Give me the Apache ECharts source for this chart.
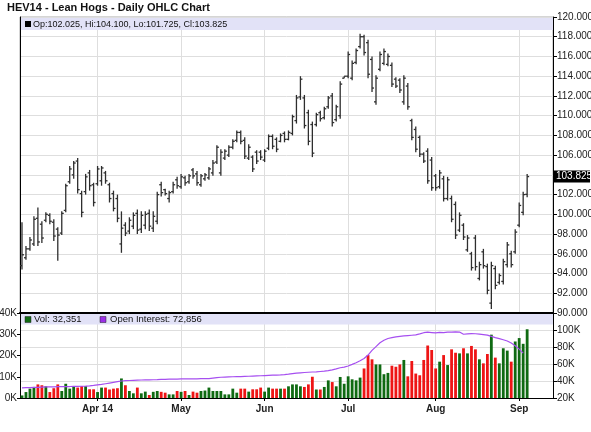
<!DOCTYPE html>
<html>
<head>
<meta charset="utf-8">
<title>HEV14 - Lean Hogs - Daily OHLC Chart</title>
<script src="https://cdn.jsdelivr.net/npm/echarts@6/dist/echarts.min.js"></script>
<style>
  html, body { margin: 0; padding: 0; background: #fff; }
  #chart { width: 591px; height: 432px; }
</style>
</head>
<body>
<div id="chart"></div>
<script>
  // trading days of 2014 shown on the chart (last few Sep days are empty room on the right)
  var tradingDays = {
    '03': [5, 6, 7, 10, 11, 12, 13, 14, 17, 18, 19, 20, 21, 24, 25, 26, 27, 28, 31],
    '04': [1, 2, 3, 4, 7, 8, 9, 10, 11, 14, 15, 16, 17, 21, 22, 23, 24, 25, 28, 29, 30],
    '05': [1, 2, 5, 6, 7, 8, 9, 12, 13, 14, 15, 16, 19, 20, 21, 22, 23, 27, 28, 29, 30],
    '06': [2, 3, 4, 5, 6, 9, 10, 11, 12, 13, 16, 17, 18, 19, 20, 23, 24, 25, 26, 27, 30],
    '07': [1, 2, 3, 7, 8, 9, 10, 11, 14, 15, 16, 17, 18, 21, 22, 23, 24, 25, 28, 29, 30, 31],
    '08': [1, 4, 5, 6, 7, 8, 11, 12, 13, 14, 15, 18, 19, 20, 21, 22, 25, 26, 27, 28, 29],
    '09': [2, 3, 4, 5, 8, 9, 10, 11, 12]
  };
  var monthNames = ['Jan', 'Feb', 'Mar', 'Apr', 'May', 'Jun', 'Jul', 'Aug', 'Sep', 'Oct', 'Nov', 'Dec'];

  var opens = [
    94.8, 95.6, 96.5, 97.0, 99.6, 99.0, 99.4, 99.9, 99.2, 98.5,
    98.1, 100.4, 103.3, 104.0, 105.4, 102.1, 102.3, 104.2, 103.0, 103.1,
    103.4, 104.2, 103.0, 102.1, 101.6, 97.0, 98.9, 98.3, 98.8, 100.1,
    98.5, 98.9, 100.1, 98.6, 99.3, 103.0, 102.5, 101.6, 102.3, 103.5,
    102.8, 103.7, 103.3, 104.5, 104.1, 103.0, 103.6, 103.7, 104.2, 105.3,
    104.2, 105.7, 106.0, 106.8, 107.5, 108.3, 107.5, 105.7, 105.8, 106.3,
    106.3, 105.5, 106.7, 107.9, 107.6, 107.4, 108.2, 107.6, 108.2, 109.5,
    111.9, 111.8, 110.3, 109.1, 109.1, 110.3, 109.8, 110.9, 112.0, 109.6,
    110.0, 113.8, 114.0, 113.8, 115.4, 117.0, 118.0, 117.4, 115.7, 111.4,
    114.7, 115.3, 115.2, 115.1, 113.7, 113.6, 111.4, 113.0, 109.5, 108.6,
    107.8, 106.1, 106.4, 105.5, 103.9, 102.8, 103.6, 101.6, 101.6, 101.0,
    98.4, 98.9, 96.4, 96.0, 97.6, 93.5, 96.2, 94.7, 91.0, 94.5,
    93.1, 93.2, 94.9, 96.0, 96.2, 98.9, 100.2, 102.025
  ];
  var highs = [
    99.2, 96.8, 97.7, 99.8, 100.7, 99.3, 100.2, 100.1, 99.5, 98.7,
    100.3, 103.1, 104.9, 105.4, 105.7, 102.4, 104.1, 104.5, 103.2, 104.9,
    104.9, 104.4, 103.2, 102.4, 102.0, 100.3, 99.2, 99.7, 100.2, 100.5,
    100.3, 100.3, 100.5, 100.3, 102.3, 103.3, 102.6, 102.4, 103.3, 103.8,
    104.1, 103.9, 104.1, 104.7, 104.4, 104.1, 104.2, 104.8, 105.5, 107.0,
    106.6, 106.6, 107.0, 107.6, 108.5, 108.5, 107.8, 107.1, 106.0, 106.5,
    106.5, 106.6, 108.1, 108.1, 107.8, 108.2, 108.4, 108.5, 110.1, 112.1,
    114.0, 112.1, 110.6, 109.4, 110.3, 110.5, 110.9, 112.0, 112.3, 111.1,
    113.5, 114.0, 116.5, 115.6, 116.8, 118.3, 118.2, 117.7, 116.0, 114.1,
    116.5, 116.8, 116.3, 115.4, 113.9, 113.8, 114.1, 113.3, 109.7, 108.9,
    108.0, 106.3, 106.7, 105.8, 104.1, 104.5, 103.9, 103.8, 101.9, 101.3,
    100.2, 99.1, 97.9, 96.2, 97.9, 95.2, 96.5, 95.0, 95.2, 94.8,
    94.0, 95.5, 97.2, 96.3, 98.5, 101.2, 102.3, 104.1
  ];
  var lows = [
    94.4, 95.4, 96.3, 96.8, 96.8, 97.1, 99.2, 99.0, 97.3, 95.3,
    97.9, 100.2, 103.1, 103.6, 102.1, 99.7, 102.0, 102.4, 100.8, 102.9,
    102.9, 103.1, 101.2, 100.3, 99.2, 96.1, 97.8, 98.0, 98.5, 98.0,
    98.1, 98.5, 98.3, 98.2, 99.0, 101.8, 101.9, 101.2, 102.1, 102.6,
    102.6, 102.9, 103.1, 103.6, 102.9, 102.8, 103.4, 103.5, 103.9, 105.1,
    103.9, 105.5, 105.8, 106.6, 107.3, 107.1, 105.6, 105.5, 104.3, 105.1,
    105.5, 105.3, 106.5, 106.6, 106.3, 107.3, 107.3, 107.5, 108.0, 109.2,
    111.6, 108.7, 107.0, 105.8, 108.9, 109.4, 109.6, 110.7, 108.9, 109.4,
    109.7, 113.8, 113.8, 113.6, 115.2, 116.8, 116.1, 113.8, 112.4, 111.1,
    114.5, 115.1, 115.0, 112.9, 112.8, 112.3, 111.1, 110.6, 107.5, 106.3,
    105.8, 105.2, 103.1, 102.4, 102.4, 102.6, 101.3, 101.4, 99.2, 97.5,
    98.2, 97.4, 96.2, 94.3, 94.3, 93.3, 94.5, 91.9, 90.4, 92.4,
    92.9, 92.9, 94.6, 94.6, 96.0, 98.7, 99.9, 101.725
  ];
  var closes = [
    95.9, 96.5, 97.4, 99.5, 97.2, 97.6, 100.0, 99.3, 97.8, 97.9,
    100.1, 102.9, 104.6, 105.2, 102.5, 100.2, 103.8, 102.9, 101.2, 104.6,
    104.7, 103.4, 101.6, 100.6, 99.6, 98.6, 98.1, 99.4, 99.9, 98.4,
    99.9, 100.0, 98.8, 99.8, 102.0, 102.2, 102.1, 102.2, 103.0, 102.9,
    103.8, 103.2, 103.9, 103.9, 103.2, 103.9, 104.0, 104.6, 105.2, 106.8,
    106.3, 106.4, 106.8, 107.4, 108.3, 107.4, 105.9, 106.8, 104.6, 105.4,
    105.8, 106.4, 107.9, 106.9, 106.6, 108.0, 107.6, 108.3, 109.9, 111.8,
    113.7, 109.0, 107.4, 106.2, 110.1, 109.7, 110.7, 111.8, 109.3, 110.9,
    113.2, 114.0, 116.2, 115.3, 116.6, 118.0, 116.4, 114.2, 112.8, 113.8,
    116.2, 116.5, 116.0, 113.2, 113.0, 112.6, 113.8, 110.9, 107.8, 106.6,
    106.1, 105.4, 103.4, 102.7, 102.7, 104.2, 101.6, 103.5, 99.5, 97.9,
    99.9, 97.7, 97.6, 94.6, 94.7, 94.9, 94.8, 92.3, 94.8, 92.8,
    93.8, 95.2, 96.9, 94.9, 98.2, 100.9, 102.0, 103.825
  ];
  // volume in thousands of contracts
  var volume = [
    1.2, 2.8, 4.4, 5.2, 6.4, 6.0, 5.5, 2.8, 4.6, 6.4,
    3.3, 6.7, 4.4, 5.6, 4.9, 5.6, 5.6, 4.1, 4.1, 2.8,
    4.9, 4.9, 4.0, 4.4, 4.6, 9.2, 6.0, 3.3, 2.2, 4.9,
    2.2, 3.0, 1.4, 2.9, 3.3, 2.9, 2.5, 1.7, 1.7, 3.3,
    2.9, 3.3, 1.4, 3.0, 2.5, 3.3, 3.5, 4.9, 3.3, 3.3,
    3.3, 1.7, 1.7, 4.4, 2.5, 4.4, 4.4, 3.0, 4.1, 4.1,
    4.9, 3.0, 4.9, 4.4, 4.4, 4.4, 4.4, 5.5, 6.4, 6.4,
    5.5, 5.2, 6.4, 10.0, 4.0, 4.0, 5.2, 8.3, 7.5, 5.5,
    9.9, 6.7, 10.2, 8.8, 8.3, 9.6, 13.9, 20.2, 18.2, 15.8,
    15.8, 11.2, 11.8, 15.2, 14.7, 15.8, 17.9, 10.2, 17.4, 11.5,
    10.7, 17.9, 24.7, 22.6, 13.9, 17.1, 20.2, 15.5, 22.9, 21.3,
    21.0, 23.4, 21.0, 24.5, 22.9, 18.2, 16.3, 20.7, 29.8, 19.0,
    16.3, 23.4, 22.3, 17.1, 26.6, 28.2, 25.5, 32.351
  ];
  // open interest in thousands
  var openInterest = [
    32.0, 32.2, 32.3, 32.5, 32.6, 32.8, 33.0, 33.0, 33.2, 33.3,
    33.4, 33.5, 33.5, 33.6, 33.7, 33.8, 33.9, 34.3, 34.8, 35.4,
    36.0, 36.8, 37.6, 38.4, 39.2, 40.0, 40.4, 40.6, 40.8, 41.0,
    41.2, 41.3, 41.4, 41.5, 41.6, 41.8, 42.0, 42.1, 42.2, 42.3,
    42.4, 42.5, 42.5, 42.6, 42.6, 42.7, 42.7, 42.8, 43.4, 44.0,
    44.4, 44.6, 44.8, 45.0, 45.1, 45.2, 45.4, 45.6, 45.8, 46.0,
    46.2, 46.4, 46.6, 46.8, 47.0, 47.2, 47.5, 48.0, 48.6, 49.2,
    49.6, 50.0, 50.3, 50.6, 50.8, 51.2, 51.6, 52.2, 53.0, 54.2,
    55.6, 56.4, 57.6, 59.5, 61.5, 63.8, 66.5, 70.5, 76.0, 80.5,
    85.0, 88.0, 90.0, 91.0, 92.0, 92.6, 93.0, 93.4, 93.8, 94.2,
    95.4, 96.8, 97.4, 97.0, 96.6, 97.2, 97.0, 97.6, 97.4, 97.8,
    97.6, 95.0, 95.4, 95.8, 95.6, 95.2, 94.6, 94.0, 92.5, 91.0,
    89.8, 88.5, 87.0, 84.7, 81.5, 77.5, 72.856
  ];
  var priceTicks = { min: 90, max: 120, step: 2 };
  var lastPrice = 103.825;

  var FONT = '"Liberation Sans", Arial, Helvetica, sans-serif';
  var UP = '#0f6a12', DOWN = '#ee1515', OI_COLOR = '#a64ff0';

  var dates = [];
  Object.keys(tradingDays).forEach(function (m) {
    tradingDays[m].forEach(function (d) {
      dates.push('2014-' + m + '-' + (d < 10 ? '0' + d : d));
    });
  });

  var ohlc = opens.map(function (o, i) { return [i, o, highs[i], lows[i], closes[i]]; });
  var volBars = volume.map(function (v, i) {
    return { value: v * 1000, itemStyle: { color: closes[i] >= opens[i] ? UP : DOWN } };
  });
  var oiLine = openInterest.map(function (v) { return v * 1000; });

  function isMonthStart(idx) {
    return idx > 0 && dates[idx].slice(5, 7) !== dates[idx - 1].slice(5, 7);
  }
  var firstLabel = -1;
  for (var k = 1; k < dates.length; k++) { if (isMonthStart(k)) { firstLabel = k; break; } }

  function monthLabel(val, idx) {
    var name = monthNames[+val.slice(5, 7) - 1];
    return idx === firstLabel ? name + ' ' + val.slice(2, 4) : name;
  }

  function renderOHLC(params, api) {
    var i = api.value(0);
    var o = api.coord([i, api.value(1)]);
    var h = api.coord([i, api.value(2)]);
    var l = api.coord([i, api.value(3)]);
    var c = api.coord([i, api.value(4)]);
    var st = { stroke: '#2e2e2e', lineWidth: 1.3 };
    return {
      type: 'group',
      children: [
        { type: 'line', shape: { x1: h[0], y1: h[1], x2: l[0], y2: l[1] }, style: st },
        { type: 'line', shape: { x1: o[0] - 2, y1: o[1], x2: o[0], y2: o[1] }, style: st },
        { type: 'line', shape: { x1: c[0], y1: c[1], x2: c[0] + 2, y2: c[1] }, style: st }
      ]
    };
  }

  var gridLine = { color: '#dedede', width: 1 };
  var axisText = { fontSize: 10, color: '#222', fontFamily: FONT };

  var chart = echarts.init(document.getElementById('chart'));
  chart.setOption({
    animation: false,
    backgroundColor: '#fff',
    textStyle: { fontFamily: FONT },
    title: {
      text: 'HEV14 - Lean Hogs - Daily OHLC Chart',
      left: 7, top: 2, padding: 0,
      textStyle: { fontSize: 11, fontWeight: 'bold', color: '#111', fontFamily: FONT }
    },
    grid: [
      { left: 20, right: 38, top: 17, height: 296, outerBoundsMode: 'none',
        show: true, borderColor: '#aaa', borderWidth: 1 },
      { left: 20, right: 38, top: 313, height: 85, outerBoundsMode: 'none' }
    ],
    xAxis: [
      {
        type: 'category', gridIndex: 0, data: dates, boundaryGap: true,
        axisLine: { lineStyle: { color: '#000', width: 2 } },
        axisTick: { show: false }, axisLabel: { show: false },
        splitLine: { show: true, interval: isMonthStart, alignWithLabel: true, lineStyle: gridLine }
      },
      {
        type: 'category', gridIndex: 1, data: dates, boundaryGap: true,
        axisLine: { lineStyle: { color: '#000', width: 1 } },
        axisTick: { show: true, interval: isMonthStart, alignWithLabel: true, length: 3, lineStyle: { color: '#000' } },
        axisLabel: {
          interval: isMonthStart, formatter: monthLabel, margin: 6,
          fontSize: 10, fontWeight: 'bold', color: '#222', fontFamily: FONT
        },
        splitLine: { show: true, interval: isMonthStart, alignWithLabel: true, lineStyle: gridLine }
      }
    ],
    yAxis: [
      {
        type: 'value', gridIndex: 0, position: 'right',
        min: priceTicks.min, max: priceTicks.max, interval: priceTicks.step,
        axisLine: { show: true, lineStyle: { color: '#000' } },
        axisTick: { show: true, length: 4, lineStyle: { color: '#000' } },
        axisLabel: Object.assign({ margin: 4, formatter: function (v) {
          return v === 104 ? '' : v.toFixed(3);
        } }, axisText),
        splitLine: { show: true, lineStyle: gridLine }
      },
      {
        type: 'value', gridIndex: 0, position: 'left',
        min: priceTicks.min, max: priceTicks.max,
        axisLine: { show: true, lineStyle: { color: '#000' } },
        axisTick: { show: false }, axisLabel: { show: false }, splitLine: { show: false }
      },
      {
        type: 'value', gridIndex: 1, position: 'left', min: 0, max: 40000, interval: 10000,
        axisLine: { show: true, lineStyle: { color: '#000' } },
        axisTick: { show: true, length: 3, lineStyle: { color: '#000' } },
        axisLabel: Object.assign({ margin: 3, formatter: function (v) { return v / 1000 + 'K'; } }, axisText),
        splitLine: { show: false }
      },
      {
        type: 'value', gridIndex: 1, position: 'right', min: 20000, max: 120000, interval: 20000,
        axisLine: { show: true, lineStyle: { color: '#000' } },
        axisTick: { show: true, length: 4, lineStyle: { color: '#000' } },
        axisLabel: Object.assign({ margin: 4, formatter: function (v) {
          return v === 120000 ? '' : v / 1000 + 'K';
        } }, axisText),
        splitLine: { show: true, lineStyle: gridLine }
      }
    ],
    series: [
      {
        name: 'OHLC', type: 'custom', xAxisIndex: 0, yAxisIndex: 0,
        renderItem: renderOHLC, data: ohlc, encode: { x: 0, y: [1, 2, 3, 4] },
        z: 3
      },
      {
        name: 'Vol', type: 'bar', xAxisIndex: 1, yAxisIndex: 2,
        data: volBars, barWidth: 2.8
      },
      {
        name: 'Open Interest', type: 'line', xAxisIndex: 1, yAxisIndex: 3,
        data: oiLine, showSymbol: false, symbol: 'none',
        lineStyle: { color: OI_COLOR, width: 1.2 }, z: 4
      }
    ],
    graphic: [
      { id: 'band1', type: 'rect', z: 1, shape: { x: 21, y: 18, width: 532, height: 12 }, style: { fill: '#e2e2f7' } },
      { id: 'sq1', type: 'rect', z: 2, shape: { x: 25, y: 21, width: 6, height: 6 }, style: { fill: '#000' } },
      { id: 'txt1', type: 'text', z: 2, x: 33, y: 24.5,
        style: { text: 'Op:102.025, Hi:104.100, Lo:101.725, Cl:103.825', fontSize: 9,
                 fontFamily: FONT, fill: '#111', verticalAlign: 'middle' } },
      { id: 'band2', type: 'rect', z: 1, shape: { x: 21, y: 314, width: 532, height: 10.5 }, style: { fill: '#e2e2f7' } },
      { id: 'sq2', type: 'rect', z: 2, shape: { x: 25, y: 316.5, width: 6, height: 6 }, style: { fill: UP, stroke: '#222', lineWidth: 0.5 } },
      { id: 'txt2', type: 'text', z: 2, x: 34, y: 319.5,
        style: { text: 'Vol: 32,351', fontSize: 9.5, fontFamily: FONT, fill: '#111', verticalAlign: 'middle' } },
      { id: 'sq3', type: 'rect', z: 2, shape: { x: 100, y: 316.5, width: 6, height: 6 }, style: { fill: '#9a2ee6', stroke: '#222', lineWidth: 0.5 } },
      { id: 'txt3', type: 'text', z: 2, x: 110, y: 319.5,
        style: { text: 'Open Interest: 72,856', fontSize: 9.5, fontFamily: FONT, fill: '#111', verticalAlign: 'middle' } }
    ]
  });

  // last-price tag on the right price axis, placed through the axis scale
  var lastY = chart.convertToPixel({ yAxisIndex: 0 }, lastPrice);
  chart.setOption({
    graphic: [
      { id: 'lastBox', type: 'rect', z: 5, shape: { x: 554, y: lastY - 6, width: 36, height: 12 }, style: { fill: '#000' } },
      { id: 'lastTxt', type: 'text', z: 6, x: 556, y: lastY,
        style: { text: lastPrice.toFixed(3), fontSize: 10, fontFamily: FONT, fill: '#fff', verticalAlign: 'middle' } }
    ]
  });
</script>
</body>
</html>
